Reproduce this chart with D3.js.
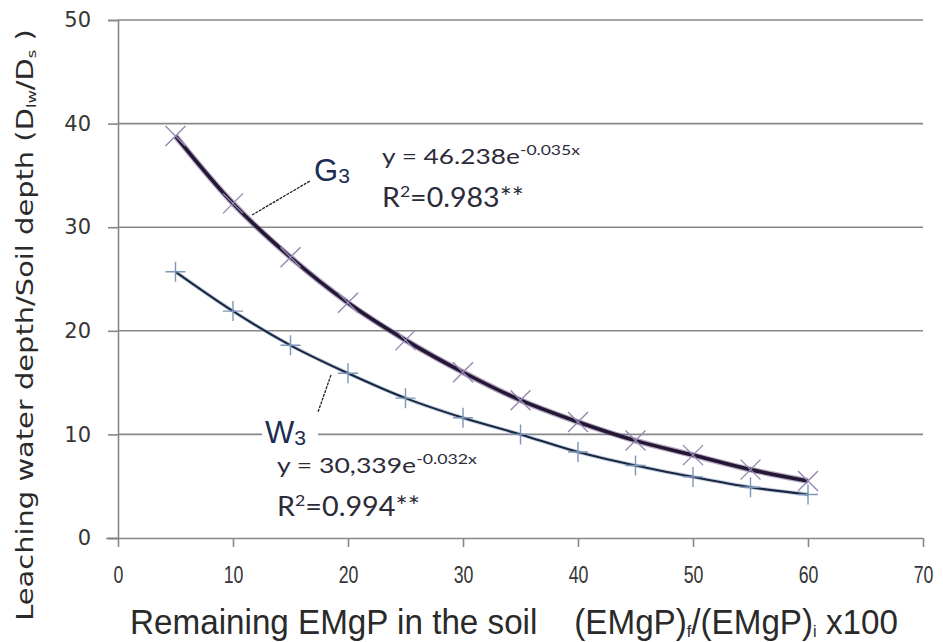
<!DOCTYPE html>
<html>
<head>
<meta charset="utf-8">
<script src="https://cdn.jsdelivr.net/npm/d3@7"></script>
<style>
  body { margin: 0; background: #fff; }
  svg { display: block; }
</style>
</head>
<body>
<svg id="chart"></svg>
<script>
// data
var remaining = [5, 10, 15, 20, 25, 30, 35, 40, 45, 50, 55, 60];
var g3 = [38.8, 32.3, 27.1, 22.7, 19.1, 16.0, 13.3, 11.2, 9.4, 8.0, 6.6, 5.5];
var w3 = [25.7, 21.9, 18.6, 15.9, 13.5, 11.6, 10.0, 8.3, 7.0, 5.9, 4.9, 4.2];
var xTicks = [0, 10, 20, 30, 40, 50, 60, 70];
var yTicks = [0, 10, 20, 30, 40, 50];

var w = 943, h = 642;
var svg = d3.select("#chart").attr("width", w).attr("height", h);

var x = d3.scaleLinear().domain([0, 70]).range([118, 923]);
var y = d3.scaleLinear().domain([0, 50]).range([538, 20]);

var axisCol = "#878787";

// squeeze/stretch a text element to a width seen in the picture
function fit(t, target, px, py, rotate) {
  var k = target / t.node().getBBox().width;
  t.attr("transform", "translate(" + px + "," + py + ")" + (rotate ? " rotate(-90)" : "") + " scale(" + k + ",1)");
}

// horizontal gridlines
svg.append("g").selectAll("line").data(yTicks.filter(function(d) { return d > 0; }))
  .enter().append("line")
  .attr("x1", x(0)).attr("x2", x(70))
  .attr("y1", function(d) { return y(d); }).attr("y2", function(d) { return y(d); })
  .attr("stroke", axisCol).attr("stroke-width", 1.6);

// y axis
var yAxis = svg.append("g").attr("transform", "translate(" + x(0) + ",0)")
  .call(d3.axisLeft(y).tickValues(yTicks).tickSize(10).tickPadding(17));
yAxis.select(".domain").attr("stroke", axisCol).attr("stroke-width", 1.6);
yAxis.selectAll(".tick line").attr("stroke", axisCol).attr("stroke-width", 1.6);
yAxis.selectAll(".tick text")
  .attr("font-family", "DejaVu Sans, Verdana, sans-serif")
  .attr("font-size", 21).attr("fill", "#363636");

// x axis, narrow tall digits like the picture
var xAxis = svg.append("g").attr("transform", "translate(0," + y(0) + ")")
  .call(d3.axisBottom(x).tickValues(xTicks).tickSize(9).tickPadding(19));
xAxis.select(".domain").attr("stroke", axisCol).attr("stroke-width", 1.6)
  .attr("d", "M" + (x(0) - 12) + ",0.5H" + x(70));
xAxis.selectAll(".tick line").attr("stroke", axisCol).attr("stroke-width", 1.6);
xAxis.selectAll(".tick text")
  .attr("font-family", "Liberation Sans, Arial, sans-serif")
  .attr("font-size", 24).attr("fill", "#363636")
  .attr("transform", "scale(0.74,1)");

// lines through the measured points
var line = d3.line()
  .x(function(d, i) { return x(remaining[i]); })
  .y(function(d) { return y(d); })
  .curve(d3.curveMonotoneX);

svg.append("path").datum(w3).attr("d", line).attr("fill", "none")
  .attr("stroke", "#9fb2cc").attr("stroke-width", 4).attr("stroke-opacity", 0.6);
svg.append("path").datum(w3).attr("d", line).attr("fill", "none")
  .attr("stroke", "#1a2742").attr("stroke-width", 2.1);

svg.append("path").datum(g3).attr("d", line).attr("fill", "none")
  .attr("stroke", "#6a5a88").attr("stroke-width", 6).attr("stroke-opacity", 0.5);
svg.append("path").datum(g3).attr("d", line).attr("fill", "none")
  .attr("stroke", "#241634").attr("stroke-width", 3.6);

// markers
var ms = 10;
svg.append("g").selectAll("path").data(g3).enter().append("path")
  .attr("transform", function(d, i) { return "translate(" + x(remaining[i]) + "," + y(d) + ")"; })
  .attr("d", "M" + (-ms) + "," + (-ms) + "L" + ms + "," + ms + "M" + (-ms) + "," + ms + "L" + ms + "," + (-ms))
  .attr("stroke", "#9487b3").attr("stroke-width", 1.4).attr("fill", "none");

svg.append("g").selectAll("path").data(w3).enter().append("path")
  .attr("transform", function(d, i) { return "translate(" + x(remaining[i]) + "," + y(d) + ")"; })
  .attr("d", "M" + (-ms) + ",0H" + ms + "M0," + (-ms) + "V" + ms)
  .attr("stroke", "#7d96b8").attr("stroke-width", 1.4).attr("fill", "none");

// annotations
var annFont = "Lato, Open Sans, sans-serif";
var annCol = "#2b2b3a";

function label(px, py, main, sub, size) {
  var t = svg.append("text").attr("x", px).attr("y", py)
    .attr("font-family", "Liberation Sans, Arial, sans-serif")
    .attr("font-size", size).attr("fill", "#1d2c52");
  t.append("tspan").text(main);
  t.append("tspan").attr("font-size", size * 0.68).attr("dy", 2).text(sub);
}

function equation(px, py, base, exp, eqW, r2, r2W) {
  var t = svg.append("text")
    .attr("font-family", annFont).attr("font-size", 21).attr("fill", annCol);
  t.append("tspan").text(base);
  t.append("tspan").attr("font-size", 14).attr("dy", -9).text(exp);
  fit(t, eqW, px, py, false);
  var r = svg.append("text")
    .attr("font-family", annFont).attr("font-size", 26).attr("fill", annCol);
  r.append("tspan").text("R");
  r.append("tspan").attr("font-size", 16).attr("dy", -10).text("2");
  r.append("tspan").attr("dy", 10).text("=" + r2 + "**");
  fit(r, r2W, px, py + 43, false);
}

// G3
svg.append("line").attr("x1", 252).attr("y1", 215).attr("x2", 310).attr("y2", 181)
  .attr("stroke", "#222").attr("stroke-width", 1.3).attr("stroke-dasharray", "3,1");
label(314, 181, "G", "3", 31);
equation(382, 164, "y = 46.238e", "-0.035x", 198, "0.983", 142);

// W3
svg.append("rect").attr("x", 262).attr("y", 418).attr("width", 56).attr("height", 30).attr("fill", "#fff");
svg.append("line").attr("x1", 331).attr("y1", 375).attr("x2", 318).attr("y2", 412)
  .attr("stroke", "#222").attr("stroke-width", 1.3).attr("stroke-dasharray", "3,1");
label(265, 443, "W", "3", 31);
equation(277, 473, "y = 30,339e", "-0.032x", 200, "0.994", 143);

// axis titles
var xt = svg.append("text").attr("text-anchor", "middle")
  .attr("font-family", "Liberation Sans, Arial, sans-serif")
  .attr("font-size", 35).attr("fill", "#2a2a2a");
xt.append("tspan").text("Remaining EMgP in the soil\u00a0\u00a0\u00a0\u00a0(EMgP)");
xt.append("tspan").attr("font-size", 17).attr("dy", 3).text("f");
xt.append("tspan").attr("dy", -3).text("/(EMgP)");
xt.append("tspan").attr("font-size", 17).attr("dy", 3).text("i");
xt.append("tspan").attr("dy", -3).text(" x100");
fit(xt, 768, 514, 634, false);

var yt = svg.append("text").attr("text-anchor", "middle")
  .attr("font-family", "DejaVu Sans, Verdana, sans-serif")
  .attr("font-size", 23).attr("fill", "#2a2a2a");
yt.append("tspan").text("Leaching water depth/Soil depth (D");
yt.append("tspan").attr("font-size", 13).attr("dy", 3).text("lw");
yt.append("tspan").attr("dy", -3).text("/D");
yt.append("tspan").attr("font-size", 13).attr("dy", 3).text("s");
yt.append("tspan").attr("dy", -3).text(" )");
fit(yt, 592, 33, 325, true);
</script>
</body>
</html>
